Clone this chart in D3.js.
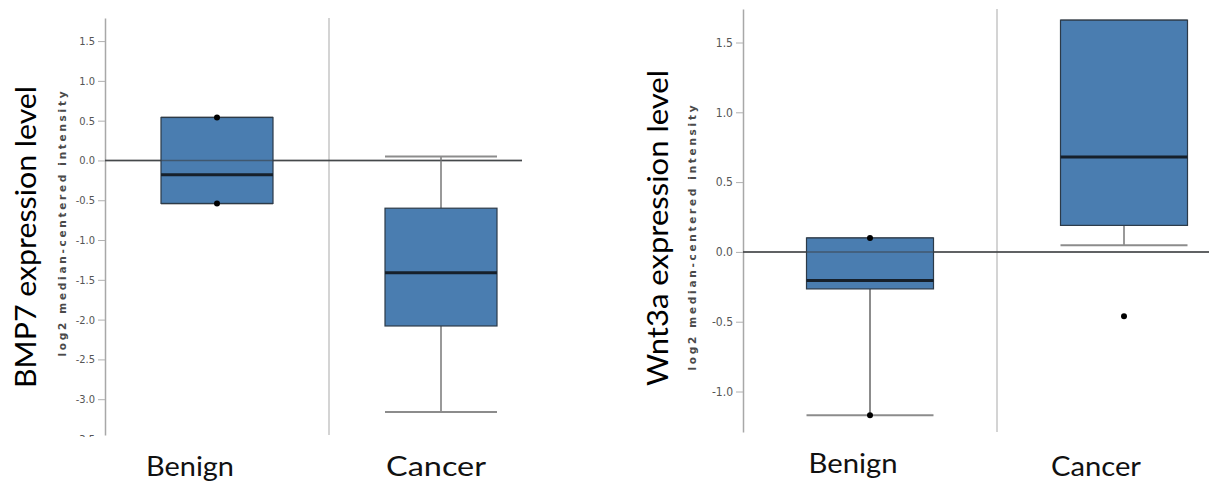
<!DOCTYPE html>
<html>
<head>
<meta charset="utf-8">
<script src="https://cdn.jsdelivr.net/npm/d3@7"></script>
<style>
  body { margin: 0; background: #fff; }
  svg { display: block; }
</style>
</head>
<body>
<div id="root"></div>
<script>
// values
const categories = ["Benign", "Cancer"];

const bmp7WhiskerLow = [-0.54, -3.16];
const bmp7Q1 = [-0.54, -2.08];
const bmp7Median = [-0.18, -1.41];
const bmp7Q3 = [0.54, -0.6];
const bmp7WhiskerHigh = [0.54, 0.05];
const bmp7Points = [[0.54, -0.54], []];
const bmp7Ticks = [1.5, 1.0, 0.5, 0.0, -0.5, -1.0, -1.5, -2.0, -2.5, -3.0, -3.5];

const wntWhiskerLow = [-1.17, 0.047];
const wntQ1 = [-0.265, 0.19];
const wntMedian = [-0.205, 0.68];
const wntQ3 = [0.1, 1.66];
const wntWhiskerHigh = [0.1, 1.66];
const wntPoints = [[0.1, -1.17], [-0.46]];
const wntTicks = [1.5, 1.0, 0.5, 0.0, -0.5, -1.0];

const width = 1209;
const height = 482;

const svg = d3.select("#root")
  .append("svg")
  .attr("width", width)
  .attr("height", height);

function drawPanel(p) {
  const g = svg.append("g");
  const rows = categories.map((c, i) => ({
    cat: c,
    lo: p.lo[i], q1: p.q1[i], med: p.med[i], q3: p.q3[i], hi: p.hi[i],
    points: p.points[i],
  }));

  const y = d3.scaleLinear().domain(p.domain).range([p.bottom, p.top]);
  const x = d3.scalePoint().domain(categories).range([p.left, p.left + 2 * p.step]).padding(0.5);
  const boxW = p.step * 0.5;

  // clip for the cut-off bottom tick label (in the axis group's own coords)
  const clipId = "clip-" + p.name;
  svg.append("clipPath").attr("id", clipId)
    .append("rect").attr("x", -p.left).attr("y", 0).attr("width", width).attr("height", p.bottom + 2);

  // divider between categories
  g.append("line")
    .attr("x1", p.left + p.step).attr("x2", p.left + p.step)
    .attr("y1", p.top).attr("y2", p.bottom)
    .attr("stroke", "#d4d4d4").attr("stroke-width", 2);

  // y axis
  const axis = g.append("g")
    .attr("transform", `translate(${p.left},0)`)
    .attr("clip-path", `url(#${clipId})`)
    .call(d3.axisLeft(y).tickValues(p.ticks).tickFormat((d) => d.toFixed(1)).tickSize(7).tickSizeOuter(0).tickPadding(3));
  axis.select(".domain").attr("stroke", "#a8a8a8").attr("stroke-width", 1.5);
  axis.selectAll(".tick line").attr("stroke", "#b0b0b0");
  axis.selectAll(".tick text")
    .attr("fill", "#555")
    .attr("font-family", "DejaVu Sans")
    .attr("font-stretch", "condensed")
    .attr("font-size", p.tickFont);

  // zero line
  g.append("line")
    .attr("x1", p.left).attr("x2", p.zeroEnd)
    .attr("y1", y(0)).attr("y2", y(0))
    .attr("stroke", "#555").attr("stroke-width", 1.5);

  const box = g.selectAll("g.box").data(rows).join("g").attr("class", "box");

  // whiskers
  box.append("line")
    .attr("x1", (d) => x(d.cat)).attr("x2", (d) => x(d.cat))
    .attr("y1", (d) => y(d.q3)).attr("y2", (d) => y(d.hi))
    .attr("stroke", "#999").attr("stroke-width", 2);
  box.append("line")
    .attr("x1", (d) => x(d.cat)).attr("x2", (d) => x(d.cat))
    .attr("y1", (d) => y(d.q1)).attr("y2", (d) => y(d.lo))
    .attr("stroke", (d, i) => (p.name === "wnt" && i === 0 ? "#666" : "#999"))
    .attr("stroke-width", (d, i) => (p.name === "wnt" && i === 0 ? 1.5 : 2));
  box.selectAll("line.cap")
    .data((d) => [d.hi, d.lo].map((v) => ({ cat: d.cat, v })))
    .join("line")
    .attr("class", "cap")
    .attr("x1", (d) => x(d.cat) - boxW / 2).attr("x2", (d) => x(d.cat) + boxW / 2)
    .attr("y1", (d) => y(d.v)).attr("y2", (d) => y(d.v))
    .attr("stroke", "#8c8c8c").attr("stroke-width", 2);

  // box
  box.append("rect")
    .attr("x", (d) => x(d.cat) - boxW / 2)
    .attr("y", (d) => y(d.q3))
    .attr("width", boxW)
    .attr("height", (d) => y(d.q1) - y(d.q3))
    .attr("fill", "#4a7db0")
    .attr("stroke", "#2c3a48")
    .attr("stroke-width", 1.2);

  // zero line shows through the box
  g.append("line")
    .attr("x1", p.left).attr("x2", p.zeroEnd)
    .attr("y1", y(0)).attr("y2", y(0))
    .attr("stroke", "#3a3f45").attr("stroke-opacity", 0.6).attr("stroke-width", 1.5);

  // median
  box.append("line")
    .attr("x1", (d) => x(d.cat) - boxW / 2).attr("x2", (d) => x(d.cat) + boxW / 2)
    .attr("y1", (d) => y(d.med)).attr("y2", (d) => y(d.med))
    .attr("stroke", "#16202b").attr("stroke-width", 3);

  // points
  box.selectAll("circle")
    .data((d) => d.points.map((v) => ({ cat: d.cat, v })))
    .join("circle")
    .attr("cx", (d) => x(d.cat))
    .attr("cy", (d) => y(d.v))
    .attr("r", 3)
    .attr("fill", "#000");

  // category labels
  g.selectAll("text.cat")
    .data(categories)
    .join("text")
    .attr("class", "cat")
    .text((d) => d)
    .attr("x", (d, i) => x(d) + p.labelShift[i])
    .attr("y", (d, i) => p.labelY[i])
    .attr("text-anchor", "middle")
    .attr("font-family", "Lato, 'Open Sans', sans-serif")
    .attr("font-size", 26)
    .attr("textLength", (d, i) => p.labelLen[i])
    .attr("lengthAdjust", "spacingAndGlyphs")
    .attr("fill", "#111");

  // titles
  g.append("text")
    .text(p.title)
    .attr("transform", `translate(${p.titleX},${p.titleY}) rotate(-90)`)
    .attr("text-anchor", "middle")
    .attr("font-family", "Lato, 'Open Sans', sans-serif")
    .attr("font-size", 28)
    .attr("textLength", p.titleLen)
    .attr("lengthAdjust", "spacingAndGlyphs")
    .attr("fill", "#000");

  g.append("text")
    .text("log2 median-centered intensity")
    .attr("transform", `translate(${p.subX},${p.subY}) rotate(-90)`)
    .attr("text-anchor", "middle")
    .attr("font-family", "DejaVu Sans, sans-serif")
    .attr("font-size", 10.5)
    .attr("font-weight", "bold")
    .attr("textLength", 265)
    .attr("lengthAdjust", "spacing")
    .attr("fill", "#4a4a4a");
}

drawPanel({
  name: "bmp7",
  domain: [-3.45, 1.79], top: 18, bottom: 435,
  left: 105, step: 224, zeroEnd: 522,
  ticks: bmp7Ticks, tickFont: 11,
  lo: bmp7WhiskerLow, q1: bmp7Q1, med: bmp7Median, q3: bmp7Q3, hi: bmp7WhiskerHigh, points: bmp7Points,
  labelShift: [-27, -5], labelY: [476, 476], labelLen: [88, 100],
  title: "BMP7 expression level", titleX: 36, titleY: 237, titleLen: 302,
  subX: 66, subY: 224,
});

drawPanel({
  name: "wnt",
  domain: [-1.29, 1.74], top: 9, bottom: 432,
  left: 743, step: 254, zeroEnd: 1209,
  ticks: wntTicks, tickFont: 12,
  lo: wntWhiskerLow, q1: wntQ1, med: wntMedian, q3: wntQ3, hi: wntWhiskerHigh, points: wntPoints,
  labelShift: [-17, -28], labelY: [473, 476], labelLen: [89, 90],
  title: "Wnt3a expression level", titleX: 668, titleY: 228, titleLen: 316,
  subX: 696, subY: 238,
});
</script>
</body>
</html>
